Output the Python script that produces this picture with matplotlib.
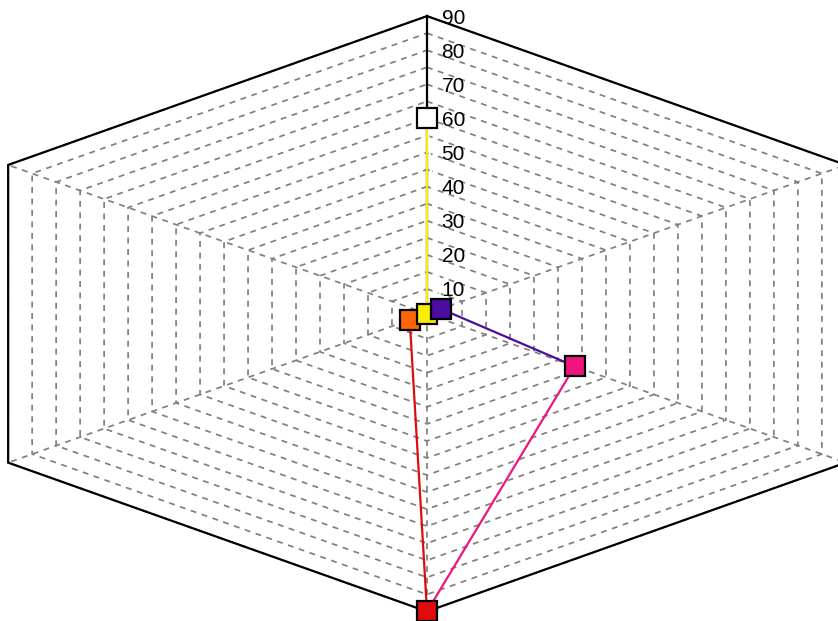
import numpy as np
import matplotlib
matplotlib.use('Agg')
import matplotlib.pyplot as plt

plt.rcParams['font.family'] = ['Liberation Sans', 'DejaVu Sans']

# data: one value per spoke, clockwise from the top
values = [60, 5.6, 33.5, 90, 6.3, 2.7]
colors = ['#ffffff', '#4b0ca0', '#f0147f', '#e00c0c', '#ff6405', '#f8ee05']
ring_values = list(range(5, 95, 5))
tick_values = list(range(10, 100, 10))
rmax = 90
rmin = min(values)

angles = np.deg2rad([90, 30, -30, -90, -150, 150])

# pixel layout of the stretched hexagon
W, H = 838, 621
cx, cy = 427, H - 313.8      # centre, from bottom-left
sx, sy = 5.54, 3.41          # px per unit

fig = plt.figure(figsize=(W / 100, H / 100), dpi=100)
ax = fig.add_axes([0, 0, 1, 1])
ax.set_xlim(-cx / sx, (W - cx) / sx)
ax.set_ylim(-cy / sy, (H - cy) / sy)
ax.axis('off')


def xy(r, a):
    u = r - rmin
    return u * np.cos(a), u * np.sin(a)


dash = (0, (3.4, 3.2))
ca = np.append(angles, angles[0])

# rings
for r in ring_values:
    if r <= rmin:
        continue
    x, y = xy(r, ca)
    ax.plot(x, y, color='#808080', lw=1.25, ls=dash, zorder=1)

# spokes
for a in angles:
    x, y = xy(np.array([rmin, rmax]), a)
    ax.plot(x, y, color='#808080', lw=1.25, ls=dash, zorder=1)

# outer frame
x, y = xy(rmax, ca)
ax.plot(x, y, color='black', lw=1.6, zorder=2, solid_joinstyle='miter')

# radial axis line on top spoke
x, y = xy(np.array([rmin, rmax]), angles[0])
ax.plot(x, y, color='black', lw=1.6, zorder=2)

# tick labels
for t in tick_values:
    ax.text(14.5 / sx, t - rmin, str(t), fontsize=15, ha='left',
            va='center_baseline', zorder=3)

# segments, each in the colour of its start point
n = len(values)
px, py = xy(np.array(values, dtype=float), angles)
for i in range(n):
    j = (i + 1) % n
    ax.plot([px[i], px[j]], [py[i], py[j]], color=colors[i], lw=1.6, zorder=4)

# markers; the purple one sits on top of the yellow
for i in [0, 2, 3, 4, 5, 1]:
    ax.plot(px[i], py[i], marker='s', ms=14.5, mfc=colors[i], mec='black',
            mew=1.6, zorder=5, ls='none')

fig.savefig('out.png', dpi=100)
